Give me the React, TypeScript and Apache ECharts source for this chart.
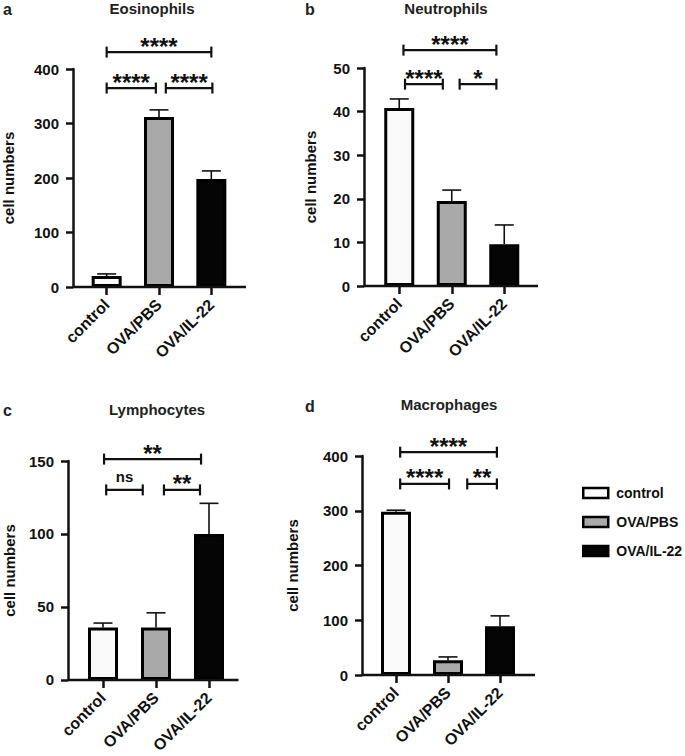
import React, { useEffect, useRef } from 'react';
import * as echarts from 'echarts';

const categories = ['control', 'OVA/PBS', 'OVA/IL-22'];

const eosMean = [20, 312, 198];
const eosSd = [4, 13, 15];
const neuMean = [40.8, 19.5, 9.6];
const neuSd = [2.1, 2.5, 4.4];
const lymMean = [36, 36, 100];
const lymSd = [3, 10, 21];
const macMean = [298, 27, 89];
const macSd = [3, 6, 19];

const comparisons = [[0, 2], [0, 1], [1, 2]];
const eosSig = ['****', '****', '****'];
const neuSig = ['****', '****', '*'];
const lymSig = ['**', 'ns', '**'];
const macSig = ['****', '****', '**'];

const eosAxis = { max: 400, interval: 100 };
const neuAxis = { max: 50, interval: 10 };
const lymAxis = { max: 150, interval: 50 };
const macAxis = { max: 400, interval: 100 };

const titles = ['Eosinophils', 'Neutrophils', 'Lymphocytes', 'Macrophages'];
const letters = ['a', 'b', 'c', 'd'];

// layout (positions / styles)
const FONT = '"Liberation Sans", Arial, Helvetica, sans-serif';
const INK = '#111';
const fills = ['#fafafa', '#a9a9a9', '#050505'];

const layouts = [
  { grid: { left: 78.5, top: 69, width: 159, height: 218 }, offset: 7.5, ext: 8.5, nameGap: 57,
    title: [152, 8], letter: [3, 9],
    levels: [431, 365, 365], insets: [[0, 0], [0, -0.06], [0.13, 0.02]] },
  { grid: { left: 373, top: 68, width: 157.5, height: 218 }, offset: 9, ext: 7.5, nameGap: 46,
    title: [446, 8], letter: [305, 9],
    levels: [54.1, 46.3, 46.3], insets: [[0.08, -0.15], [0.11, -0.17], [0.15, -0.15]] },
  { grid: { left: 76.5, top: 461, width: 159, height: 220 }, offset: 8.5, ext: 3, nameGap: 51,
    title: [157, 409], letter: [3, 410],
    levels: [151.3, 130.2, 130.2], insets: [[0.02, -0.15], [0.06, -0.25], [0.15, -0.17]] },
  { grid: { left: 370, top: 456, width: 156, height: 219 }, offset: 8, ext: 9, nameGap: 62,
    title: [449, 404], letter: [305, 406],
    levels: [407, 349, 349], insets: [[0.08, -0.06], [0.08, 0.02], [0.37, -0.06]] },
];

const panelData = [
  { mean: eosMean, sd: eosSd, sig: eosSig, axis: eosAxis },
  { mean: neuMean, sd: neuSd, sig: neuSig, axis: neuAxis },
  { mean: lymMean, sd: lymSd, sig: lymSig, axis: lymAxis },
  { mean: macMean, sd: macSd, sig: macSig, axis: macAxis },
];

function buildOption() {
  const grid: any[] = [];
  const xAxis: any[] = [];
  const yAxis: any[] = [];
  const series: any[] = [];
  const graphic: any[] = [];

  panelData.forEach((p, i) => {
    const L = layouts[i];
    grid.push({ ...L.grid });
    xAxis.push({
      type: 'category', gridIndex: i, data: categories, boundaryGap: true,
      axisLine: { show: false },
      axisTick: { show: true, alignWithLabel: true, length: 8, lineStyle: { color: INK, width: 2.5 } },
      axisLabel: { interval: 0, rotate: 45, margin: 15, fontSize: 16, fontWeight: 'bold', color: INK, fontFamily: FONT },
      splitLine: { show: false },
    });
    yAxis.push({
      type: 'value', gridIndex: i, min: 0, max: p.axis.max, interval: p.axis.interval, offset: L.offset,
      name: 'cell numbers', nameLocation: 'middle', nameGap: L.nameGap,
      nameTextStyle: { fontSize: 15, fontWeight: 'bold', color: INK, fontFamily: FONT },
      axisLine: { show: true, lineStyle: { color: INK, width: 2.5 } },
      axisTick: { show: true, length: 7, lineStyle: { color: INK, width: 2.5 } },
      axisLabel: { margin: 14, fontSize: 15, fontWeight: 'bold', color: INK, fontFamily: FONT },
      splitLine: { show: false },
    });

    categories.forEach((c, k) => {
      series.push({
        name: c, type: 'bar', xAxisIndex: i, yAxisIndex: i,
        data: p.mean.map((v, j) => (j === k ? v : '-')),
        barWidth: 30, barGap: '-100%', z: 2,
        itemStyle: { color: fills[k], borderColor: '#000', borderWidth: 3 },
      });
    });

    // error bars
    series.push({
      type: 'custom', xAxisIndex: i, yAxisIndex: i, z: 1,
      data: p.mean.map((m, j) => [j, m, p.sd[j]]),
      encode: { x: 0, y: 1 },
      renderItem: (params: any, api: any) => {
        const x = api.value(0), m = api.value(1), s = api.value(2);
        const p0 = api.coord([x, m]);
        const p1 = api.coord([x, m + s]);
        const st = { stroke: INK, lineWidth: 1.6 };
        return {
          type: 'group', children: [
            { type: 'line', shape: { x1: p0[0], y1: p0[1], x2: p1[0], y2: p1[1] }, style: st },
            { type: 'line', shape: { x1: p1[0] - 9.5, y1: p1[1], x2: p1[0] + 9.5, y2: p1[1] }, style: st },
          ],
        };
      },
    });

    // significance brackets
    const sigLabels = p.sig;
    series.push({
      type: 'custom', xAxisIndex: i, yAxisIndex: i, z: 3, clip: false,
      data: comparisons.map((c, j) => [c[0], c[1], L.levels[j], L.insets[j][0], L.insets[j][1]]),
      encode: { x: 0, y: 2 },
      renderItem: (params: any, api: any) => {
        const from = api.value(0), to = api.value(1), level = api.value(2);
        const ia = api.value(3), ib = api.value(4);
        const band = api.size([1, 0])[0];
        const pa = api.coord([from, level]);
        const pb = api.coord([to, level]);
        const x1 = pa[0] + ia * band, x2 = pb[0] + ib * band, y = pa[1];
        const label = sigLabels[params.dataIndex];
        const star = label.indexOf('*') >= 0;
        const st = { stroke: INK, lineWidth: 2.2 };
        return {
          type: 'group', children: [
            { type: 'line', shape: { x1, y1: y, x2, y2: y }, style: st },
            { type: 'line', shape: { x1, y1: y - 5.5, x2: x1, y2: y + 5.5 }, style: st },
            { type: 'line', shape: { x1: x2, y1: y - 5.5, x2, y2: y + 5.5 }, style: st },
            {
              type: 'text', x: (x1 + x2) / 2, y: star ? y - 6 : y - 13,
              style: {
                text: label, fontSize: star ? 24 : 15, fontWeight: 'bold', fontFamily: FONT,
                fill: INK, align: 'center', verticalAlign: 'middle',
              },
            },
          ],
        };
      },
    });

    // x axis baseline
    const off = L.offset, ext = L.ext;
    series.push({
      type: 'custom', xAxisIndex: i, yAxisIndex: i, z: 4, clip: false,
      data: [[0, 0]],
      encode: { x: 0, y: 1 },
      renderItem: (params: any, api: any) => {
        const band = api.size([1, 0])[0];
        const a = api.coord([0, 0]);
        const b = api.coord([categories.length - 1, 0]);
        return {
          type: 'line',
          shape: { x1: a[0] - band / 2 - off, y1: a[1], x2: b[0] + band / 2 + ext, y2: a[1] },
          style: { stroke: INK, lineWidth: 2.5 },
        };
      },
    });

    graphic.push({
      type: 'text', x: L.title[0], y: L.title[1],
      style: { text: titles[i], fontSize: 15, fontWeight: 'bold', fontFamily: FONT, fill: '#222', align: 'center', verticalAlign: 'middle' },
    });
    graphic.push({
      type: 'text', x: L.letter[0], y: L.letter[1],
      style: { text: letters[i], fontSize: 16, fontWeight: 'bold', fontFamily: FONT, fill: '#222', align: 'left', verticalAlign: 'middle' },
    });
  });

  return {
    animation: false,
    backgroundColor: '#ffffff',
    grid, xAxis, yAxis, series, graphic,
    legend: {
      data: categories, orient: 'vertical', left: 577, top: 481,
      itemWidth: 25, itemHeight: 10, itemGap: 15, icon: 'rect',
      selectedMode: false,
      itemStyle: { borderColor: '#000', borderWidth: 2.5 },
      textStyle: { fontSize: 14, fontWeight: 'bold', color: INK, fontFamily: FONT, padding: [0, 0, 0, 3] },
    },
  };
}

export default function App() {
  const ref = useRef<HTMLDivElement>(null);
  useEffect(() => {
    document.body.style.margin = '0';
    if (!ref.current) return;
    const chart = echarts.init(ref.current, undefined, { renderer: 'svg' });
    chart.setOption(buildOption() as any);
    return () => chart.dispose();
  }, []);
  return <div ref={ref} style={{ width: 685, height: 756 }} />;
}
